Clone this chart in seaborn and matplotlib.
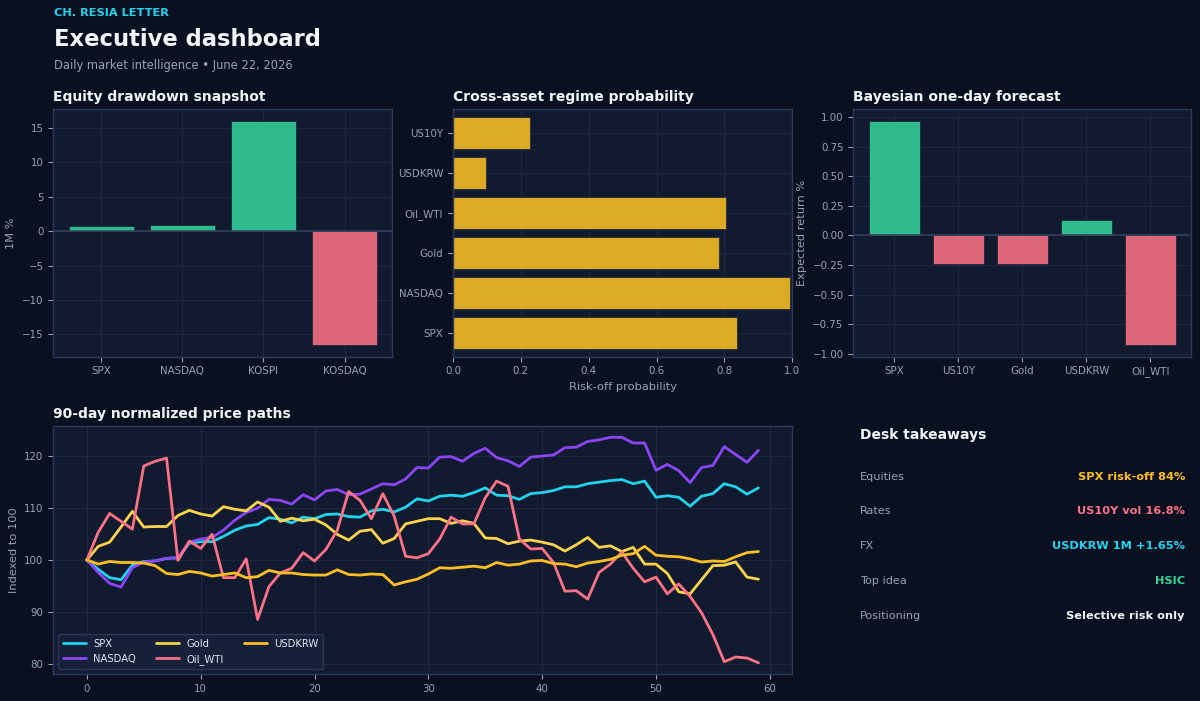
import numpy as np
import pandas as pd
import seaborn as sns
import matplotlib.pyplot as plt

BG = "#0b1020"
PANEL = "#111a2e"
EDGE = "#2d3a5a"
GRID = "#1e2a42"
MUTED = "#94a3b8"
WHITE = "#f1f5f9"
GREEN = "#34d399"
RED = "#fb7185"
AMBER = "#fbbf24"
CYAN = "#22d3ee"

# equity snapshot
eq_names = ["SPX", "NASDAQ", "KOSPI", "KOSDAQ"]
eq_1m = [0.7, 0.85, 16.1, -16.6]

# regime probability
reg_assets = ["SPX", "NASDAQ", "Gold", "Oil_WTI", "USDKRW", "US10Y"]
reg_prob = [0.837, 0.993, 0.783, 0.803, 0.098, 0.227]

# bayesian forecast
fc_assets = ["SPX", "US10Y", "Gold", "USDKRW", "Oil_WTI"]
fc_ret = [0.972, -0.245, -0.245, 0.13, -0.93]

# price paths
days = list(range(60))
spx = [100, 98.2, 96.6, 96.2, 99.0, 99.7, 99.8, 100.3, 100.4, 103.2,
       103.5, 103.5, 104.5, 105.7, 106.5, 106.8, 108.1, 107.8, 107.1, 108.2,
       107.9, 108.7, 108.8, 108.3, 108.2, 109.4, 109.7, 109.2, 110.1, 111.7,
       111.3, 112.2, 112.4, 112.2, 112.9, 113.8, 112.4, 112.3, 111.6, 112.7,
       112.9, 113.3, 114.0, 114.0, 114.6, 114.9, 115.2, 115.4, 114.6, 115.1,
       112.0, 112.3, 112.0, 110.3, 112.2, 112.7, 114.6, 114.0, 112.6, 113.8]
nasdaq = [100, 97.6, 95.5, 94.8, 98.5, 99.6, 99.8, 100.3, 100.4, 103.4,
          104.0, 104.3, 105.7, 107.6, 109.1, 109.9, 111.6, 111.4, 110.7, 112.5,
          111.5, 113.2, 113.5, 112.5, 112.6, 113.6, 114.6, 114.4, 115.5, 117.7,
          117.6, 119.7, 119.8, 118.9, 120.4, 121.4, 119.6, 119.0, 117.9, 119.7,
          119.9, 120.1, 121.5, 121.6, 122.7, 123.0, 123.5, 123.5, 122.4, 122.4,
          117.2, 118.3, 117.1, 114.8, 117.7, 118.1, 121.7, 120.2, 118.7, 121.0]
gold = [100, 102.6, 103.4, 106.3, 109.3, 106.3, 106.4, 106.4, 108.5, 109.5,
        108.8, 108.4, 110.2, 109.7, 109.4, 111.1, 110.1, 107.4, 108.0, 107.5,
        107.8, 106.7, 104.9, 103.8, 105.5, 105.8, 103.2, 104.1, 106.9, 107.4,
        107.9, 107.9, 107.0, 107.5, 107.0, 104.2, 104.1, 103.1, 103.6, 103.8,
        103.4, 102.9, 101.7, 102.9, 104.3, 102.4, 102.7, 101.6, 102.4, 99.2,
        99.2, 97.4, 93.9, 93.5, 96.2, 98.9, 99.0, 99.6, 96.7, 96.3]
oil = [100, 105.3, 108.9, 107.4, 105.9, 118.0, 118.9, 119.5, 99.9, 103.6,
       102.2, 104.9, 96.6, 96.6, 100.2, 88.6, 94.9, 97.5, 98.4, 101.4,
       99.8, 102.0, 105.7, 113.1, 111.4, 107.9, 112.7, 108.4, 100.7, 100.4,
       101.2, 104.0, 108.2, 106.9, 106.9, 111.9, 115.1, 114.1, 104.0, 102.1,
       102.2, 99.5, 94.0, 94.1, 92.5, 97.6, 99.2, 101.5, 98.4, 95.8,
       96.7, 93.5, 95.4, 93.0, 89.9, 85.7, 80.5, 81.4, 81.2, 80.3]
usdkrw = [100, 99.2, 99.7, 99.5, 99.5, 99.4, 98.9, 97.4, 97.2, 97.8,
          97.5, 96.9, 97.2, 97.5, 96.6, 96.8, 98.0, 97.5, 97.5, 97.2,
          97.1, 97.1, 98.1, 97.2, 97.1, 97.3, 97.2, 95.2, 95.8, 96.3,
          97.3, 98.5, 98.4, 98.6, 98.8, 98.5, 99.5, 99.0, 99.2, 99.8,
          99.9, 99.3, 99.2, 98.7, 99.4, 99.7, 100.1, 100.9, 101.2, 102.6,
          100.9, 100.7, 100.6, 100.2, 99.6, 99.8, 99.7, 100.6, 101.4, 101.6]

series_names = ["SPX", "NASDAQ", "Gold", "Oil_WTI", "USDKRW"]
series_colors = [CYAN, "#8b45f5", "#fcd34d", RED, AMBER]

takeaway_labels = ["Equities", "Rates", "FX", "Top idea", "Positioning"]
takeaway_values = ["SPX risk-off 84%", "US10Y vol 16.8%", "USDKRW 1M +1.65%",
                   "HSIC", "Selective risk only"]
takeaway_colors = [AMBER, RED, CYAN, GREEN, WHITE]

sns.set_theme(style="darkgrid", rc={
    "figure.facecolor": BG,
    "axes.facecolor": PANEL,
    "axes.edgecolor": EDGE,
    "axes.linewidth": 1.0,
    "grid.color": GRID,
    "grid.linewidth": 0.8,
    "text.color": WHITE,
    "axes.labelcolor": MUTED,
    "xtick.color": MUTED,
    "ytick.color": MUTED,
    "xtick.bottom": True,
    "ytick.left": True,
    "xtick.major.size": 3.5,
    "ytick.major.size": 3.5,
    "xtick.major.width": 0.8,
    "ytick.major.width": 0.8,
    "xtick.labelsize": 7.4,
    "ytick.labelsize": 7.4,
    "axes.labelsize": 8.2,
})
plt.rcParams["font.family"] = ["DejaVu Sans"]

fig = plt.figure(figsize=(12, 7.01), dpi=100)
ax1 = fig.add_axes([0.0444, 0.4912, 0.2826, 0.3529])
ax2 = fig.add_axes([0.3775, 0.4912, 0.2828, 0.3529])
ax3 = fig.add_axes([0.7111, 0.4912, 0.2817, 0.3529])
ax4 = fig.add_axes([0.0444, 0.0385, 0.6156, 0.3538])

for ax in (ax1, ax2, ax3, ax4):
    for s in ax.spines.values():
        s.set_color(EDGE)
        s.set_visible(True)
    ax.tick_params(colors=MUTED, labelcolor=MUTED)

bar_kw = dict(alpha=0.88, edgecolor="#1a2338", linewidth=0.6, saturation=1,
              errorbar=None, legend=False)

# panel 1
df_eq = pd.DataFrame({"name": eq_names, "val": eq_1m})
df_eq["sign"] = np.where(df_eq["val"] >= 0, "up", "down")
sns.barplot(data=df_eq, x="name", y="val", hue="sign", dodge=False,
            palette={"up": GREEN, "down": RED}, ax=ax1, **bar_kw)
ax1.axhline(0, color="#34425f", lw=1.1, zorder=3)
ax1.set_xlim(-0.59, len(eq_names) - 1 + 0.59)
ax1.grid(True, axis="both")
ax1.set_xlabel("")
ax1.set_ylabel("1M %")
ax1.set_title("Equity drawdown snapshot", loc="left", fontsize=10,
              fontweight="bold", color=WHITE, pad=6)

# panel 2
df_reg = pd.DataFrame({"asset": reg_assets, "prob": reg_prob})
sns.barplot(data=df_reg, x="prob", y="asset", order=reg_assets[::-1],
            color=AMBER, orient="h", ax=ax2, **bar_kw)
ax2.set_xlim(0, 1.0)
ax2.set_ylim(len(reg_assets) - 1 + 0.59, -0.59)
ax2.grid(True, axis="both")
ax2.set_ylabel("")
ax2.set_xlabel("Risk-off probability")
ax2.set_title("Cross-asset regime probability", loc="left", fontsize=10,
              fontweight="bold", color=WHITE, pad=6)

# panel 3
df_fc = pd.DataFrame({"asset": fc_assets, "ret": fc_ret})
df_fc["sign"] = np.where(df_fc["ret"] >= 0, "up", "down")
sns.barplot(data=df_fc, x="asset", y="ret", hue="sign", dodge=False,
            palette={"up": GREEN, "down": RED}, ax=ax3, **bar_kw)
ax3.axhline(0, color="#34425f", lw=1.1, zorder=3)
ax3.set_xlim(-0.64, len(fc_assets) - 1 + 0.64)
ax3.grid(True, axis="both")
ax3.set_xlabel("")
ax3.set_ylabel("Expected return %")
ax3.set_title("Bayesian one-day forecast", loc="left", fontsize=10,
              fontweight="bold", color=WHITE, pad=6)

# panel 4
paths = pd.DataFrame({"day": days, "SPX": spx, "NASDAQ": nasdaq, "Gold": gold,
                      "Oil_WTI": oil, "USDKRW": usdkrw})
long = paths.melt(id_vars="day", var_name="series", value_name="value")
sns.lineplot(data=long, x="day", y="value", hue="series", hue_order=series_names,
             palette=dict(zip(series_names, series_colors)), linewidth=2, ax=ax4)
ax4.set_xlabel("")
ax4.set_ylabel("Indexed to 100")
ax4.grid(True, axis="both")
ax4.set_title("90-day normalized price paths", loc="left", fontsize=10,
              fontweight="bold", color=WHITE, pad=6)
handles, labels = ax4.get_legend_handles_labels()
leg = ax4.legend(handles, labels, ncol=3, loc="lower left", fontsize=7.2,
                 frameon=True, facecolor="#16213a", edgecolor=EDGE,
                 framealpha=0.95, labelcolor="#e2e8f0", handlelength=2.3,
                 handletextpad=0.75, columnspacing=2.0, borderpad=0.45)

# header
def ftext(x, y, s, **kw):
    fig.text(x / 1200, 1 - y / 701, s, va="center", **kw)

ftext(54, 13.5, "CH. RESIA LETTER", color=CYAN, fontsize=8.2, fontweight="bold")
ftext(54, 39, "Executive dashboard", color=WHITE, fontsize=16.3, fontweight="bold")
ftext(54, 65, "Daily market intelligence \u2022 June 22, 2026", color=MUTED, fontsize=8.3)

# takeaways
ftext(860, 434.5, "Desk takeaways", color=WHITE, fontsize=10, fontweight="bold")
row_y = [476.7, 511.3, 546.3, 581, 615.7]
for y, lab, val, col in zip(row_y, takeaway_labels, takeaway_values, takeaway_colors):
    ftext(860, y, lab, color=MUTED, fontsize=8.1)
    ftext(1185, y, val, color=col, fontsize=8.2, fontweight="bold", ha="right")

fig.savefig("out.png", dpi=100, facecolor=BG)
